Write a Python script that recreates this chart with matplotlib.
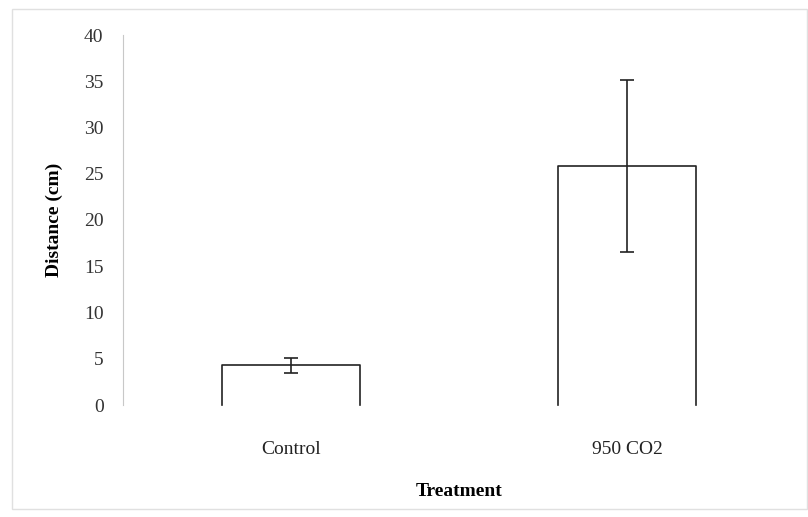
import matplotlib
matplotlib.use("Agg")
import matplotlib.pyplot as plt
from matplotlib.patches import Rectangle

categories = ["Control", "950 CO2"]
means = [4.3, 25.8]
errors = [0.8, 9.3]
yticks = [0, 5, 10, 15, 20, 25, 30, 35, 40]

plt.rcParams['font.family'] = ['Liberation Serif', 'DejaVu Serif']

fig = plt.figure(figsize=(8.08, 5.17), dpi=100)
fig.patches.append(Rectangle((12/808, 8/517), 795/808, 500/517, transform=fig.transFigure,
                             fill=False, edgecolor='#e0e0e0', linewidth=1.0))
ax = fig.add_axes([123/808, (517-405)/517, 672/808, 370/517])

x = [0.5, 1.5]
width = 0.41
ax.bar(x, means, width=width, color='white', edgecolor='none', zorder=2)
# open-bottomed outlines: left side, top, right side
for xc, m in zip(x, means):
    ax.plot([xc - width/2, xc - width/2, xc + width/2, xc + width/2], [0, m, m, 0],
            color='#222222', linewidth=1.2, zorder=3, clip_on=False)
ax.errorbar(x, means, yerr=errors, fmt='none', ecolor='#222222', elinewidth=1.2,
            capsize=5, capthick=1.2, zorder=4)

ax.set_xlim(0, 2)
ax.set_ylim(0, 40)
ax.set_yticks(yticks)
ax.set_xticks(x)
ax.set_xticklabels(categories)
for side in ['top', 'right', 'bottom']:
    ax.spines[side].set_visible(False)
ax.spines['left'].set_color('#c8c8c8')
ax.tick_params(axis='y', length=0, pad=14, labelsize=14, colors='#333333')
ax.tick_params(axis='x', length=0, pad=26, labelsize=14, colors='#222222')
ax.set_ylabel('Distance (cm)', fontsize=14, fontweight='bold', labelpad=15)
ax.set_xlabel('Treatment', fontsize=14, fontweight='bold', labelpad=18)

fig.savefig('out.png', dpi=100, facecolor='white')
